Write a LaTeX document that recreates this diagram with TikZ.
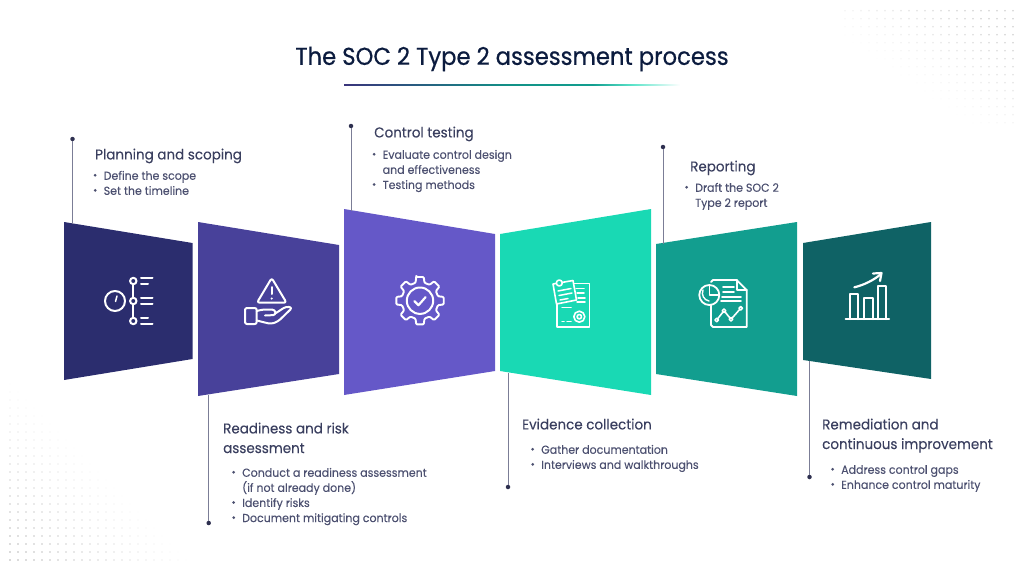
\documentclass[tikz,border=0pt]{standalone}
\usepackage{fontspec}
\setmainfont{Poppins}
\newfontfamily\titlefont[FakeBold=0.6,FakeStretch=0.93]{Poppins}
\newfontfamily\labelfont[FakeBold=0.15,FakeStretch=0.95]{Poppins}
\usetikzlibrary{arrows.meta,positioning}
\lineskiplimit=-8pt
\definecolor{titlecol}{HTML}{0B1B3E}
\definecolor{headcol}{HTML}{3A3F5F}
\definecolor{bodycol}{HTML}{4C5070}
\definecolor{leadcol}{HTML}{7B7D96}
\definecolor{dotcol}{HTML}{2E3050}
\definecolor{panelA}{HTML}{2B2D6E}
\definecolor{panelB}{HTML}{48419A}
\definecolor{panelC}{HTML}{6558C8}
\definecolor{panelD}{HTML}{19D9B4}
\definecolor{panelE}{HTML}{129E8F}
\definecolor{panelF}{HTML}{0F6265}
\colorlet{rulestart}{panelB!80!black}
\colorlet{rulemid}{panelE!80!panelF}
\colorlet{ruleend}{panelD!70}
\pgfdeclarehorizontalshading{rulefade}{100bp}{
  color(0bp)=(rulestart); color(25bp)=(rulestart);
  color(50bp)=(rulemid); color(62bp)=(panelE); color(68bp)=(ruleend);
  color(75bp)=(white); color(100bp)=(white)}
\newcommand{\bul}{\strut\llap{\raisebox{3pt}{\tikz\fill[bodycol] (0,0) circle (1.5pt);}\hspace{7pt}}}
\tikzset{
  titletext/.style={anchor=center,inner sep=0pt,text=titlecol,font=\titlefont\fontsize{24.4}{28}\selectfont},
  headtext/.style={anchor=north west,inner sep=0pt,align=left,text=headcol,font=\labelfont\fontsize{14.2}{19.6}\selectfont},
  bodytext/.style={anchor=north west,inner sep=0pt,align=left,text=bodycol,font=\labelfont\fontsize{11.6}{15.1}\selectfont},
  leaddot/.style={circle,fill=dotcol,inner sep=0pt,minimum size=4.5pt},
  leadline/.style={draw=leadcol,line width=1pt},
  iconline/.style={draw=white,line width=2pt,line cap=round,line join=round}
}
\begin{document}
\begin{tikzpicture}[x=1pt,y=-1pt]
  \useasboundingbox (0,0) rectangle (1024,570);

  % dots in the corners
  \foreach \i in {0,...,21} \foreach \j in {0,...,14} {
    \pgfmathsetmacro{\px}{845+8*\i}
    \pgfmathsetmacro{\py}{10.7+8*\j}
    \pgfmathsetmacro{\op}{0.38*min(1,max(0,0.26+(\px-845)/170-(\py-10)/115))}
    \fill[gray,opacity=\op] (\px,\py) circle (0.9);
  }
  \foreach \i in {0,...,23} \foreach \j in {0,...,23} {
    \pgfmathsetmacro{\px}{10+8*\i}
    \pgfmathsetmacro{\py}{376+8*\j}
    \pgfmathsetmacro{\op}{0.6*min(1,max(0,1-(\px-10)/185-(560-\py)/185))}
    \fill[gray,opacity=\op] (\px,\py) circle (0.9);
  }

  % title
  \node[titletext] (title) at (512,59) {The SOC 2 Type 2 assessment process};
  \shade[shading=rulefade] (344,84) rectangle (680,85.6);

  % panels
  \fill[panelA] (64,222) -- (192.5,243) -- (192.5,359) -- (64,380) -- cycle;
  \fill[panelB] (198,222) -- (339,245) -- (339,374) -- (198,396) -- cycle;
  \fill[panelC] (344,209) -- (495,234) -- (495,371) -- (344,395) -- cycle;
  \fill[panelD] (500,234) -- (651,209) -- (651,395) -- (500,371) -- cycle;
  \fill[panelE] (656,244) -- (797,222) -- (797,396) -- (656,374) -- cycle;
  \fill[panelF] (803,243) -- (931,222) -- (931,379) -- (803,360) -- cycle;

  % leaders
  \node[leaddot] (d1) at (72.5,139) {};
  \node[leaddot] (d2) at (208.7,523) {};
  \node[leaddot] (d3) at (351,126) {};
  \node[leaddot] (d4) at (508,487) {};
  \node[leaddot] (d5) at (663,147) {};
  \node[leaddot] (d6) at (809.5,477) {};
  \coordinate (p1) at (72.5,223.5);
  \coordinate (p2) at (208.7,394.5);
  \coordinate (p3) at (351,210.5);
  \coordinate (p4) at (508,372.5);
  \coordinate (p5) at (663,243.5);
  \coordinate (p6) at (809.5,361);
  \foreach \k in {1,...,6} \draw[leadline] (d\k) -- (p\k);

  % texts
  \node[headtext] (h1) at (95,145.5) {\strut Planning and scoping};
  \node[bodytext] (b1) at (103.5,169) {\bul Define the scope\\\bul Set the timeline};
  \node[headtext] (h2) at (223,419.5) {\strut Readiness and risk\\assessment};
  \node[bodytext] (b2) at (242,466) {\bul Conduct a readiness assessment\\(if not already done)\\\bul Identify risks\\\bul Document mitigating controls};
  \node[headtext] (h3) at (374,123.5) {\strut Control testing};
  \node[bodytext] (b3) at (382.5,148) {\bul Evaluate control design\\and effectiveness\\\bul Testing methods};
  \node[headtext] (h4) at (522,415.5) {\strut Evidence collection};
  \node[bodytext] (b4) at (541,443) {\bul Gather documentation\\\bul Interviews and walkthroughs};
  \node[headtext] (h5) at (690,157.5) {\strut Reporting};
  \node[bodytext] (b5) at (695,181) {\bul Draft the SOC 2\\Type 2 report};
  \node[headtext] (h6) at (822,415.5) {\strut Remediation and\\continuous improvement};
  \node[bodytext] (b6) at (841,463) {\bul Address control gaps\\\bul Enhance control maturity};

  % timeline icon
  \draw[iconline] (115,301) circle (10);
  \draw[iconline,line width=1.5pt] (115.5,301.5) -- (117,296);
  \draw[iconline] (133.3,284.5) -- (133.3,297.5) (133.3,304.5) -- (133.3,317.5);
  \foreach \yy in {281,301,321} \draw[iconline] (133.3,\yy) circle (3.2);
  \draw[iconline] (141,277.7) -- (152.5,277.7) (141,284) -- (148,284)
    (141,298) -- (152.5,298) (141,304) -- (152.5,304)
    (141,318) -- (148,318) (141,324) -- (152.5,324);

  % warning hand icon
  \draw[iconline,rounded corners=2.5pt] (271.7,278) -- (286.5,302.7) -- (257,302.7) -- cycle;
  \draw[iconline] (271.7,287) -- (271.7,294);
  \fill[white] (271.7,298.5) circle (1.2);
  \draw[iconline,rounded corners=2pt] (245,308) rectangle (256.7,324);
  \draw[iconline,rounded corners=3pt] (256.7,311) -- (263,309.5) -- (275,309.5) -- (276,315) -- (265,315.5);
  \draw[iconline,rounded corners=3pt] (256.7,320.5) -- (271,324) -- (278,321.5) -- (292.5,307.5) -- (286,306.5) -- (276,313);

  % gear icon
  \begin{scope}[shift={(420,300.7)}]
    \draw[iconline,line width=1.9pt,rounded corners=1pt] (-99:24)
      \foreach \a in {-90,-45,...,225} { -- (\a-9:24) -- (\a+9:24) -- (\a+14:18.5) -- (\a+31:18.5) }
      -- cycle;
    \draw[iconline] (0,0) circle (13.2);
    \draw[iconline,line width=2.2pt] (-5.5,0.5) -- (-1.5,4.5) -- (5.5,-3.5);
  \end{scope}

  % document icon
  \draw[iconline,line width=1.6pt] (556.7,300) -- (556.7,326.7) -- (589.3,326.7) -- (589.3,283.5) -- (572,283.5);
  \draw[iconline,line width=1.6pt,fill=panelD] (553,284) -- (573,280.5) -- (576.5,300) -- (556.5,304) -- cycle;
  \draw[iconline,line width=1.6pt,fill=panelD] (559.3,283) circle (3);
  \draw[iconline,line width=1.5pt] (558,291) -- (571,288.5) (559,295.5) -- (572,293) (560,300) -- (568,298.5);
  \draw[iconline,line width=1.5pt] (576,288.5) -- (584,288.5) (577,293) -- (584,293) (578,298) -- (585,298) (577,302) -- (585,302);
  \draw[iconline,line width=1.5pt] (562,307.7) -- (571,307.7);
  \draw[iconline,line width=1.6pt] (579.3,316.7) circle (5.5);
  \draw[iconline,line width=1.6pt] (579.3,316.7) circle (2.2);
  \draw[iconline,line width=1.5pt] (562,321.7) -- (564,321.7) (567,321.7) -- (571,321.7);

  % report icon
  \draw[iconline,line width=1.8pt] (711,305) -- (711,325) -- (713,327) -- (746.7,327) -- (746.7,290) -- (736.7,280) -- (713,280) -- (711,282);
  \draw[iconline,line width=1.8pt] (736.7,280) -- (736.7,290) -- (746.7,290);
  \draw[iconline,fill=panelE,line width=1.8pt] (709.3,295) circle (10);
  \draw[iconline,line width=1.6pt] (709.3,285) -- (709.3,295) -- (719.3,295);
  \draw[iconline,line width=1.4pt] (703,290) .. controls (701,295) and (704,300) .. (709,301);
  \draw[iconline,line width=1.6pt] (723,286.7) -- (734,286.7) (723,291.7) -- (734,291.7) (722,296.7) -- (741,296.7) (721,300.7) -- (741,300.7);
  \draw[iconline,line width=1.6pt] (716.7,320) -- (724,310.7) -- (731,319.3) -- (740.7,308.3);
  \foreach \c in {(716.7,320),(724,310.7),(731,319.3),(740.7,308.3)} \draw[iconline,fill=panelE,line width=1.5pt] \c circle (1.8);

  % bars icon
  \draw[iconline,line width=2.2pt] (845.7,319) -- (889,319);
  \draw[iconline] (849.5,319) -- (849.5,294) -- (858,294) -- (858,319);
  \draw[iconline] (863.5,319) -- (863.5,297.5) -- (872.5,297.5) -- (872.5,319);
  \draw[iconline] (877.7,319) -- (877.7,285.7) -- (886,285.7) -- (886,319);
  \draw[iconline,line width=2.2pt] (854.3,287.3) .. controls (864,285) and (874,280) .. (881,274);
  \draw[iconline,line width=2.2pt] (873,273.5) -- (881.5,273) -- (880,281);
\end{tikzpicture}
\end{document}
